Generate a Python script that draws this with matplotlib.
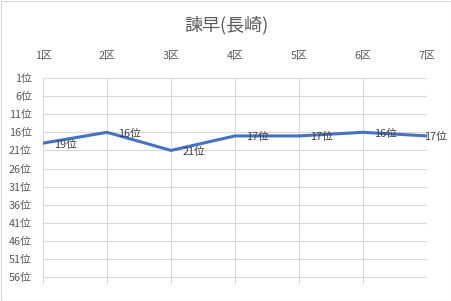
import matplotlib.pyplot as plt
from matplotlib.patches import Rectangle

plt.rcParams['font.family'] = ['Noto Sans CJK JP', 'DejaVu Sans']

# data
sections = ['1区', '2区', '3区', '4区', '5区', '6区', '7区']
ranks = [19, 16, 21, 17, 17, 16, 17]
rank_ticks = list(range(1, 57, 5))
title = '諫早(長崎)'

W, H = 452, 301
fig = plt.figure(figsize=(W / 100, H / 100), dpi=100)
ax = fig.add_axes([43 / W, 1 - 284 / H, (427 - 43) / W, (284 - 78) / H])

x = list(range(len(sections)))
ax.plot(x, ranks, color='#4472C4', lw=2.2, solid_capstyle='round', zorder=3)
for xi, r in zip(x, ranks):
    # last label is pushed back inside the chart, as Excel does
    dx = 8 if xi < len(x) - 1 else -2
    ax.annotate(f'{r}位', (xi, r), xytext=(dx, -1), textcoords='offset points',
                ha='left', va='center', fontsize=7.8, color='#404040', zorder=4)

ax.set_xlim(0, len(sections) - 1)
ax.set_ylim(57.9, 1)
ax.set_xticks(x)
ax.set_xticklabels(sections)
ax.set_yticks(rank_ticks)
ax.set_yticklabels([f'{t}位' for t in rank_ticks])
ax.xaxis.tick_top()
ax.tick_params(length=0, labelsize=7.8, labelcolor='#595959')
ax.tick_params(axis='x', pad=12)
ax.tick_params(axis='y', pad=8)
ax.grid(True, color='#D9D9D9', lw=0.8)
for s in ax.spines.values():
    s.set_visible(False)

fig.text(0.5, 1 - 25 / H, title, ha='center', va='center', fontsize=13, color='#595959')
fig.patches.append(Rectangle((0.5 / W, 0.5 / H), 1 - 1 / W, 1 - 1 / H, transform=fig.transFigure,
                             fill=False, edgecolor='#D9D9D9', lw=0.8))

fig.savefig('out.png', dpi=100)
